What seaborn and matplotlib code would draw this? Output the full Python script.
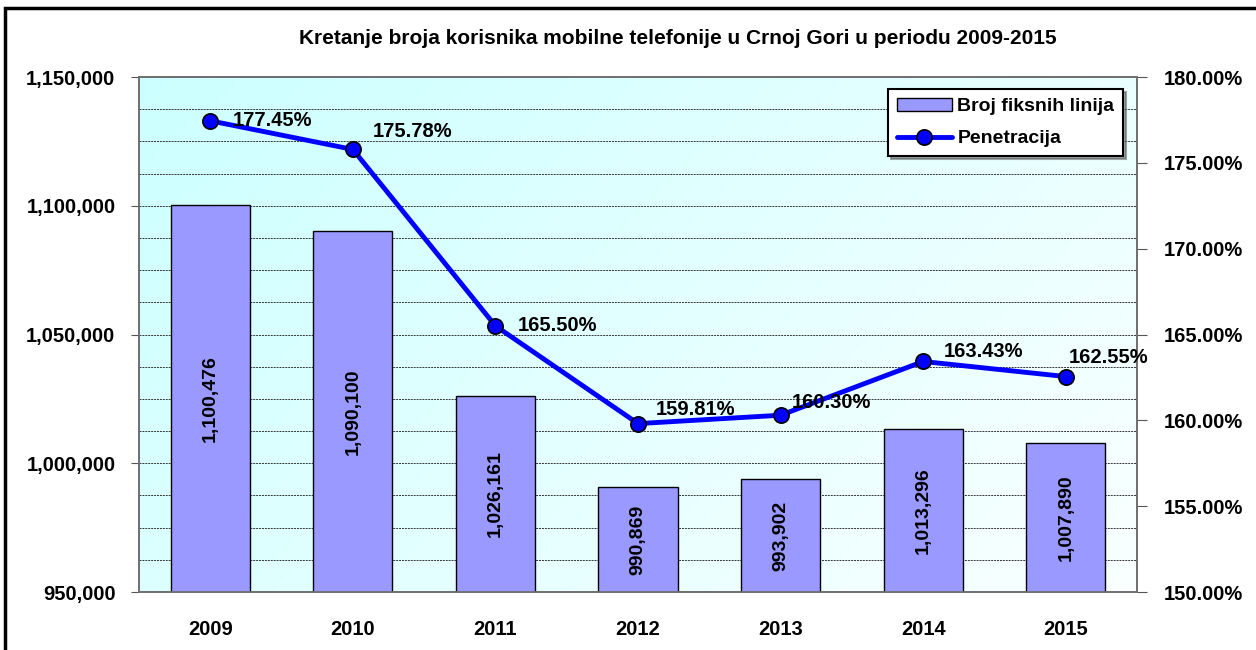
import numpy as np
import pandas as pd
import matplotlib.pyplot as plt
import matplotlib.ticker as mticker
from matplotlib.patches import Rectangle
import seaborn as sns

# podaci
godine = ['2009', '2010', '2011', '2012', '2013', '2014', '2015']
korisnici = [1100476, 1090100, 1026161, 990869, 993902, 1013296, 1007890]
penetracija = [177.45, 175.78, 165.50, 159.81, 160.30, 163.43, 162.55]

sns.set_style('white')
plt.rcParams['font.family'] = ['Liberation Sans', 'DejaVu Sans']
plt.rcParams['font.weight'] = 'bold'
plt.rcParams['text.color'] = 'black'
plt.rcParams['xtick.color'] = 'black'
plt.rcParams['ytick.color'] = 'black'
plt.rcParams['axes.labelcolor'] = 'black'

fig = plt.figure(figsize=(12.56, 6.5), dpi=100)
ax = fig.add_axes([0.1107, 0.0892, 0.7946, 0.7923])

# pozadina sa gradijentom (gore lijevo cijan, dolje desno skoro bijelo)
g = np.linspace(0, 1, 256)
gx, gy = np.meshgrid(g, g)
t = np.clip((gx * 0.65 + gy * 0.35), 0, 1)
c0 = np.array([0.80, 1.0, 1.0])
c1 = np.array([0.98, 1.0, 1.0])
img = c0[None, None, :] * (1 - t[..., None]) + c1[None, None, :] * t[..., None]
ax.imshow(img, extent=[0, 1, 0, 1], transform=ax.transAxes, aspect='auto', zorder=0, origin='upper')

df = pd.DataFrame({'Godina': godine, 'Korisnici': korisnici})
sns.barplot(data=df, x='Godina', y='Korisnici', color='#9999FF', edgecolor='black',
            linewidth=1, width=0.555, saturation=1, ax=ax, zorder=3,
            label='Broj fiksnih linija')

ax.set_ylim(950000, 1150000)
ax.set_xlim(-0.5, 6.5)
ax.yaxis.set_major_locator(mticker.MultipleLocator(50000))
ax.yaxis.set_minor_locator(mticker.MultipleLocator(12500))
ax.yaxis.set_major_formatter(mticker.StrMethodFormatter('{x:,.0f}'))
ax.grid(True, which='both', axis='y', color='#333333', linestyle=(0, (2, 1)), linewidth=0.7, zorder=1)
ax.set_axisbelow(True)
ax.set_xlabel('')
ax.set_ylabel('')
ax.xaxis.set_minor_locator(mticker.FixedLocator(np.arange(-0.5, 7, 1)))
ax.tick_params(axis='x', which='major', length=0, labelsize=14.5, pad=20, labelcolor='black')
ax.tick_params(axis='x', which='minor', length=6, direction='out', color='#555555')
ax.tick_params(axis='y', which='major', length=6, direction='out', labelsize=14.5, pad=11,
               color='#555555', labelcolor='black')
ax.tick_params(axis='y', which='minor', length=0)
for s in ax.spines.values():
    s.set_color('#707070')
    s.set_linewidth(1.3)

for i, v in enumerate(korisnici):
    ax.text(i, (950000 + v) / 2, f'{v:,}', rotation=90, ha='center', va='center',
            fontsize=14, fontweight='bold', color='black', zorder=5)

ax2 = ax.twinx()
ax2.set_zorder(ax.get_zorder() + 1)
sns.lineplot(x=np.arange(len(godine)), y=penetracija, ax=ax2, color='#0000FF', linewidth=3.5,
             marker='o', markersize=11, markerfacecolor='#0000FF', markeredgecolor='black',
             markeredgewidth=1.2, label='Penetracija', zorder=6)
ax2.set_ylim(150, 180)
ax2.yaxis.set_major_locator(mticker.MultipleLocator(5))
ax2.yaxis.set_major_formatter(mticker.FuncFormatter(lambda v, p: f'{v:.2f}%'))
ax2.tick_params(axis='y', length=7, direction='out', labelsize=14.5, pad=12, color='#555555',
                labelcolor='black')
ax2.grid(False)
for s in ax2.spines.values():
    s.set_color('#707070')
    s.set_linewidth(1.3)

# pomaci oznaka u tačkama (x, y)
pomaci = [(16, 0), (14, 13), (16, 0), (13, 10), (8, 9), (15, 7), (2, 14)]
for i, v in enumerate(penetracija):
    ax2.annotate(f'{v:.2f}%', (i, v), xytext=pomaci[i], textcoords='offset points',
                 ha='left', va='center', fontsize=14.5, fontweight='bold', color='black', zorder=7)

h1, l1 = ax.get_legend_handles_labels()
h2, l2 = ax2.get_legend_handles_labels()
if ax.get_legend():
    ax.get_legend().remove()
leg = ax2.legend(h1 + h2, l1 + l2, loc='upper right', bbox_to_anchor=(0.986, 0.977),
                 frameon=True, fancybox=False, shadow=True, edgecolor='black',
                 fontsize=14, handlelength=2.8, borderpad=0.45, labelspacing=0.75,
                 handletextpad=0.3, borderaxespad=0)
leg.get_frame().set_linewidth(1.5)
for txt in leg.get_texts():
    txt.set_fontweight('bold')
    txt.set_color('black')

fig.text(0.54, 0.9415, 'Kretanje broja korisnika mobilne telefonije u Crnoj Gori u periodu 2009-2015',
         ha='center', va='center', fontsize=15, fontweight='bold', color='black')

fig.patches.append(Rectangle((0.004, -0.02), 1.05, 1.008, transform=fig.transFigure,
                             fill=False, edgecolor='black', linewidth=2.5))

fig.savefig('out.png', dpi=100)
